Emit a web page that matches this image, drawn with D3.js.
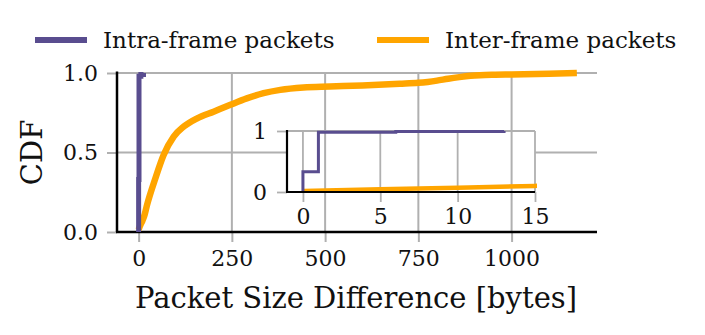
<!DOCTYPE html>
<html>
<head>
<meta charset="utf-8">
<script src="https://cdn.jsdelivr.net/npm/d3@7"></script>
<style>
  body { margin: 0; background: #fff; }
  text { font-family: "DejaVu Serif", serif; fill: #111; }
</style>
</head>
<body>
<div id="chart"></div>
<script>
// CDF of packet size difference
const seriesNames = ['Intra-frame packets', 'Inter-frame packets'];

const intraX = [0, 0, 1, 6, 13];
const intraY = [0, 0.33, 0.98, 0.99, 1.0];

const interX = [0, 5, 10, 15, 22, 45, 67, 94, 121, 157, 201, 246, 290, 335, 380, 442, 513, 600, 700, 750, 775, 800, 830, 860, 890, 915, 950, 1000, 1100, 1175];
const interY = [0.015, 0.045, 0.07, 0.1, 0.165, 0.338, 0.484, 0.6, 0.663, 0.715, 0.757, 0.8, 0.84, 0.873, 0.894, 0.909, 0.915, 0.922, 0.932, 0.938, 0.944, 0.952, 0.964, 0.974, 0.982, 0.986, 0.989, 0.991, 0.995, 1.0];

const mainXTicks = [0, 250, 500, 750, 1000];
const mainYTicks = [0, 0.5, 1.0];
const insetXTicks = [0, 5, 10, 15];
const insetYTicks = [0, 1];

const W = 705, H = 335;
const colors = { intra: '#594d8f', inter: '#ffa500', grid: '#b0b0b0' };

const svg = d3.select('#chart').append('svg')
    .attr('width', W)
    .attr('height', H);

const intra = intraX.map((x, i) => ({ x, y: intraY[i] }));
const inter = interX.map((x, i) => ({ x, y: interY[i] }));

// ---- main axes
const x = d3.scaleLinear().domain([-58, 1229]).range([117, 597]);
const y = d3.scaleLinear().domain([0, 1]).range([232, 73]);

const main = svg.append('g');

// horizontal grid
main.selectAll('.hgrid')
    .data(mainYTicks.filter(d => d > 0))
    .enter().append('line')
    .attr('x1', x.range()[0]).attr('x2', x.range()[1])
    .attr('y1', d => y(d)).attr('y2', d => y(d))
    .attr('stroke', colors.grid).attr('stroke-width', 2);

// vertical grid
const drawVGrid = (g) => g.selectAll('.vgrid')
    .data(mainXTicks)
    .enter().append('line')
    .attr('x1', d => x(d)).attr('x2', d => x(d))
    .attr('y1', y(0)).attr('y2', y(1))
    .attr('stroke', colors.grid).attr('stroke-width', 2);
drawVGrid(main);

// axes via d3
const xAxis = main.append('g')
    .attr('transform', `translate(0,${y(0)})`)
    .call(d3.axisBottom(x).tickValues(mainXTicks).tickFormat(d3.format('d')).tickSize(10).tickPadding(8));
const yAxis = main.append('g')
    .attr('transform', `translate(${x.range()[0]},0)`)
    .call(d3.axisLeft(y).tickValues(mainYTicks).tickFormat(d3.format('.1f')).tickSize(10).tickPadding(9));

[xAxis, yAxis].forEach(a => {
    a.select('.domain').remove();
    a.selectAll('.tick line').attr('stroke', colors.grid).attr('stroke-width', 2);
    a.selectAll('.tick text').attr('font-size', 22).attr('font-family', 'DejaVu Serif').attr('fill', '#111');
});

// spines
main.append('line')
    .attr('x1', x.range()[0] - 1).attr('x2', x.range()[1])
    .attr('y1', y(0)).attr('y2', y(0))
    .attr('stroke', '#000').attr('stroke-width', 2.5);
main.append('line')
    .attr('x1', x.range()[0]).attr('x2', x.range()[0])
    .attr('y1', y(0)).attr('y2', y(1) - 1.5)
    .attr('stroke', '#000').attr('stroke-width', 2.5);

main.append('path')
    .datum(inter)
    .attr('d', d3.line().x(d => x(d.x)).y(d => y(d.y)).curve(d3.curveMonotoneX))
    .attr('fill', 'none')
    .attr('stroke', colors.inter)
    .attr('stroke-width', 6.5);

main.append('path')
    .datum(intra)
    .attr('d', d3.line().x(d => x(d.x)).y(d => y(d.y)).curve(d3.curveStepAfter))
    .attr('fill', 'none')
    .attr('stroke', colors.intra)
    .attr('stroke-width', 5);

// axis labels
svg.append('text')
    .attr('x', (x.range()[0] + x.range()[1]) / 2 - 1)
    .attr('y', 308)
    .attr('text-anchor', 'middle')
    .attr('font-size', 29)
    .text('Packet Size Difference [bytes]');

svg.append('text')
    .attr('transform', `translate(42,${(y(0) + y(1)) / 2}) rotate(-90)`)
    .attr('text-anchor', 'middle')
    .attr('font-size', 29)
    .text('CDF');

// ---- inset
const ix = d3.scaleLinear().domain([-1.03, 15]).range([287, 535]);
const iy = d3.scaleLinear().domain([0, 1]).range([192, 131]);

const inset = svg.append('g');

inset.append('rect')
    .attr('x', ix.range()[0]).attr('y', iy(1))
    .attr('width', ix.range()[1] - ix.range()[0])
    .attr('height', iy(0) - iy(1))
    .attr('fill', '#fff');

svg.append('clipPath').attr('id', 'insetClip')
    .append('rect')
    .attr('x', ix.range()[0]).attr('y', iy(1) - 1)
    .attr('width', ix.range()[1] - ix.range()[0] + 2)
    .attr('height', iy(0) - iy(1) + 2);

// main vertical grid shows through the inset
drawVGrid(inset.append('g').attr('clip-path', 'url(#insetClip)'));

// inset grid
inset.selectAll('.ivgrid')
    .data(insetXTicks)
    .enter().append('line')
    .attr('x1', d => ix(d)).attr('x2', d => ix(d))
    .attr('y1', iy(0)).attr('y2', iy(1))
    .attr('stroke', colors.grid).attr('stroke-width', 1.8);
inset.selectAll('.ihgrid')
    .data(insetYTicks.filter(d => d > 0))
    .enter().append('line')
    .attr('x1', ix.range()[0]).attr('x2', ix.range()[1])
    .attr('y1', d => iy(d)).attr('y2', d => iy(d))
    .attr('stroke', colors.grid).attr('stroke-width', 1.8);

const ixAxis = inset.append('g')
    .attr('transform', `translate(0,${iy(0)})`)
    .call(d3.axisBottom(ix).tickValues(insetXTicks).tickFormat(d3.format('d')).tickSize(10).tickPadding(6));
const iyAxis = inset.append('g')
    .attr('transform', `translate(${ix.range()[0]},0)`)
    .call(d3.axisLeft(iy).tickValues(insetYTicks).tickFormat(d3.format('d')).tickSize(10).tickPadding(10));

[ixAxis, iyAxis].forEach(a => {
    a.select('.domain').remove();
    a.selectAll('.tick line').attr('stroke', colors.grid).attr('stroke-width', 1.8);
    a.selectAll('.tick text').attr('font-size', 22).attr('font-family', 'DejaVu Serif').attr('fill', '#111');
});

const clipped = inset.append('g').attr('clip-path', 'url(#insetClip)');

clipped.append('path')
    .datum(inter)
    .attr('d', d3.line().x(d => ix(d.x)).y(d => iy(d.y)).curve(d3.curveMonotoneX))
    .attr('fill', 'none')
    .attr('stroke', colors.inter)
    .attr('stroke-width', 4.5);

clipped.append('path')
    .datum(intra)
    .attr('d', d3.line().x(d => ix(d.x)).y(d => iy(d.y)).curve(d3.curveStepAfter))
    .attr('fill', 'none')
    .attr('stroke', colors.intra)
    .attr('stroke-width', 3);

inset.append('line')
    .attr('x1', ix.range()[0] - 1).attr('x2', ix.range()[1])
    .attr('y1', iy(0)).attr('y2', iy(0))
    .attr('stroke', '#000').attr('stroke-width', 2.2);
inset.append('line')
    .attr('x1', ix.range()[0]).attr('x2', ix.range()[0])
    .attr('y1', iy(0)).attr('y2', iy(1) - 1)
    .attr('stroke', '#000').attr('stroke-width', 2.2);

// ---- legend
const legendItems = [
    { label: seriesNames[0], color: colors.intra, x: 35 },
    { label: seriesNames[1], color: colors.inter, x: 377 }
];
const legend = svg.append('g')
    .selectAll('.legend-item')
    .data(legendItems)
    .enter().append('g')
    .attr('transform', d => `translate(${d.x},40)`);

legend.append('line')
    .attr('x1', 0).attr('x2', 52)
    .attr('stroke', d => d.color)
    .attr('stroke-width', 6);

legend.append('text')
    .attr('x', 68)
    .attr('y', 8)
    .attr('font-size', 23)
    .text(d => d.label);
</script>
</body>
</html>
